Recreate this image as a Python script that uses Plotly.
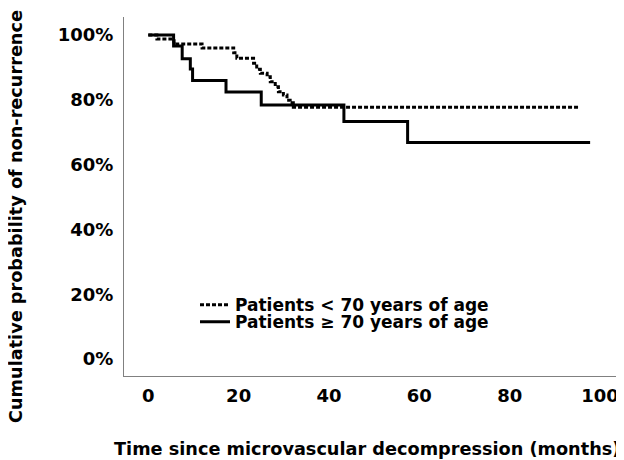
import plotly.graph_objects as go

# Kaplan-Meier step data (months, % non-recurrence)
under70_time = [0, 1.9, 5.7, 11.9, 18.9, 19.6, 23.3, 24.0, 24.8, 26.3, 27.0, 28.1,
                28.8, 29.9, 30.7, 31.4, 32.1, 95.2]
under70_surv = [100, 98.8, 97.2, 96.0, 94.5, 92.8, 91.3, 89.4, 88.2, 87.1, 85.6, 84.0,
                82.5, 81.5, 79.9, 79.1, 77.7, 77.7]

over70_time = [0, 5.6, 7.5, 9.3, 9.8, 17.2, 25.0, 43.3, 57.4, 97.8]
over70_surv = [100, 96.6, 92.7, 89.5, 86.0, 82.4, 78.4, 73.3, 66.8, 66.8]

x_ticks = [0, 20, 40, 60, 80, 100]
y_ticks = [0, 20, 40, 60, 80, 100]
y_tick_labels = ["0%", "20%", "40%", "60%", "80%", "100%"]

series_names = ["Patients < 70 years of age", "Patients \u2265 70 years of age"]

FONT = "DejaVu Sans"

fig = go.Figure()
fig.add_trace(go.Scatter(
    x=over70_time, y=over70_surv, mode="lines", line_shape="hv",
    line=dict(color="black", width=3), name=series_names[1], legend="legend2",
    showlegend=True,
))
fig.add_trace(go.Scatter(
    x=under70_time, y=under70_surv, mode="lines", line_shape="hv",
    line=dict(color="black", width=3, dash="4px,2px"), name=series_names[0], legend="legend",
    showlegend=True,
))

legend_font = dict(family=FONT, size=17, color="black", weight="bold")

fig.update_layout(
    width=616, height=452,
    showlegend=True,
    margin=dict(l=116, r=0, t=9, b=84),
    paper_bgcolor="white", plot_bgcolor="white",
    font=dict(family=FONT, color="black", size=18, weight="bold"),
    legend=dict(x=0.142, y=0.197, xanchor="left", yanchor="middle", visible=True,
                font=legend_font, bgcolor="rgba(0,0,0,0)"),
    legend2=dict(x=0.142, y=0.150, xanchor="left", yanchor="middle", visible=True,
                 font=legend_font, bgcolor="rgba(0,0,0,0)"),
    xaxis=dict(range=[-5.38, 105.3], tickvals=x_ticks, showgrid=False, zeroline=False,
               showline=True, linecolor="#808080", linewidth=1, ticks="",
               ticklabelstandoff=3,
               tickfont=dict(family=FONT, size=18, color="black", weight="bold")),
    yaxis=dict(range=[-5.24, 105.56], tickvals=y_ticks, ticktext=y_tick_labels,
               showgrid=False, zeroline=False,
               showline=True, linecolor="#808080", linewidth=1, ticks="",
               ticklabelstandoff=6,
               tickfont=dict(family=FONT, size=18, color="black", weight="bold")),
    annotations=[
        dict(text="Time since microvascular decompression (months)", xref="paper", yref="paper",
             x=0.486, y=-0.2033, xanchor="center", yanchor="middle", showarrow=False,
             font=dict(family=FONT, size=17.7, color="black", weight="bold")),
        dict(text="Cumulative probability of non-recurrence", xref="paper", yref="paper",
             x=-0.216, y=0.443, xanchor="center", yanchor="middle", showarrow=False,
             textangle=-90,
             font=dict(family=FONT, size=17.7, color="black", weight="bold")),
    ],
)

fig.write_html("out.html")
